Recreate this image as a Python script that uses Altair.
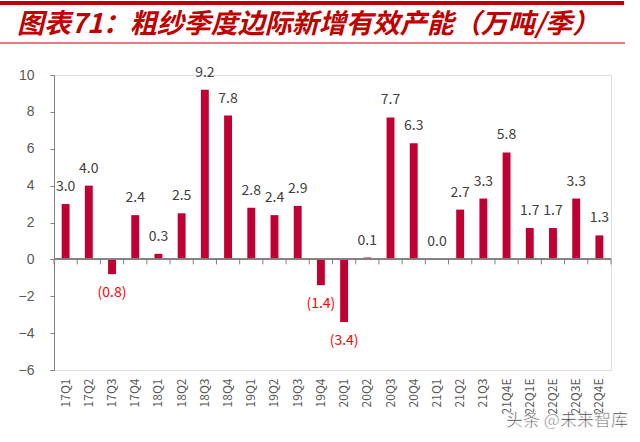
import altair as alt
import pandas as pd

TITLE = "图表71：粗纱季度边际新增有效产能（万吨/季）"
WATERMARK = "头条 @未来智库"

quarters = ["17Q1", "17Q2", "17Q3", "17Q4", "18Q1", "18Q2", "18Q3", "18Q4",
            "19Q1", "19Q2", "19Q3", "19Q4", "20Q1", "20Q2", "20Q3", "20Q4",
            "21Q1", "21Q2", "21Q3", "21Q4E", "22Q1E", "22Q2E", "22Q3E", "22Q4E"]
values = [3.0, 4.0, -0.8, 2.4, 0.3, 2.5, 9.2, 7.8,
          2.8, 2.4, 2.9, -1.4, -3.4, 0.1, 7.7, 6.3,
          0.0, 2.7, 3.3, 5.8, 1.7, 1.7, 3.3, 1.3]
y_ticks = [-6, -4, -2, 0, 2, 4, 6, 8, 10]

df = pd.DataFrame({"q": quarters, "v": values})
df["label"] = [f"{v:.1f}" if v >= 0 else f"({-v:.1f})" for v in values]

W, H = 557, 295
Y_MIN, Y_MAX = -6, 10
PAD_IN = 0.66
STEP = W / len(quarters)
GAP_HALF = STEP * PAD_IN / 2
TICK_UNITS = 5 / (H / (Y_MAX - Y_MIN))   # 5 px tick length expressed in data units
RED = "#C00032"
TITLE_RED = "#C00000"
GRAY = "#808080"
LABEL = "#595959"
FONT = "Noto Sans CJK SC"

xscale = alt.Scale(paddingInner=PAD_IN, paddingOuter=PAD_IN / 2)
yscale = alt.Scale(domain=[Y_MIN, Y_MAX], nice=False, zero=False)

x_axis = alt.Axis(title=None, labelAngle=-90, domain=False, ticks=False,
                  labelFontSize=12, labelColor=LABEL, labelPadding=8,
                  labelFont=FONT)
y_axis = alt.Axis(values=y_ticks, title=None, grid=False,
                  domainColor=GRAY, tickColor=GRAY, tickSize=4,
                  labelPadding=16, labelFontSize=14, labelColor=LABEL,
                  labelOverlap=False)

x_enc = alt.X("q:N", sort=quarters, scale=xscale, axis=x_axis)
y_enc = alt.Y("v:Q", scale=yscale, axis=y_axis)

bars = alt.Chart(df).mark_bar(color=RED).encode(x=x_enc, y=y_enc)

zero_line = alt.Chart(df).mark_rule(color=GRAY, strokeWidth=1).encode(
    y=alt.Y(datum=0, scale=yscale, axis=y_axis), x=alt.value(0), x2=alt.value(W))

zero_ticks = alt.Chart(df).mark_rule(
    color=GRAY, strokeWidth=1, xOffset=-GAP_HALF
).encode(
    x=alt.X("q:N", sort=quarters, scale=xscale, axis=x_axis, bandPosition=0),
    y=alt.Y(datum=0, scale=yscale, axis=y_axis),
    y2=alt.Y2(datum=-TICK_UNITS),
)

end_tick = alt.Chart(pd.DataFrame({"a": [0]})).mark_rule(
    color=GRAY, strokeWidth=1
).encode(x=alt.value(W), y=alt.Y(datum=0, scale=yscale, axis=y_axis),
         y2=alt.Y2(datum=-TICK_UNITS))

pos_labels = alt.Chart(df).transform_filter("datum.v >= 0").mark_text(
    baseline="bottom", dy=-10, fontSize=14, font=FONT, color="#404040"
).encode(x=x_enc, y=y_enc, text="label:N")

neg_labels = alt.Chart(df).transform_filter("datum.v < 0").mark_text(
    baseline="top", dy=12, fontSize=14, font=FONT, color="#FF0000"
).encode(x=x_enc, y=y_enc, text="label:N")

one = pd.DataFrame({"t": [TITLE]})
title = alt.Chart(one).mark_text(
    align="left", baseline="middle", font=FONT, fontSize=27, fontWeight="bold",
    fontStyle="italic", color=TITLE_RED
).encode(x=alt.value(-37), y=alt.value(-50), text="t:N")

line_top = alt.Chart(one).mark_rule(color=TITLE_RED, strokeWidth=4).encode(
    x=alt.value(-54), x2=alt.value(570), y=alt.value(-72))
line_bot = alt.Chart(one).mark_rule(color=TITLE_RED, strokeWidth=1.2).encode(
    x=alt.value(-54), x2=alt.value(571), y=alt.value(-32))

wm = pd.DataFrame({"t": [WATERMARK]})
watermark = alt.Chart(wm).mark_text(
    align="center", baseline="middle", font=FONT, fontSize=17, color="#3a3a3a",
    stroke="white", strokeWidth=0.6
).encode(x=alt.value(513), y=alt.value(346), text="t:N")

chart = alt.layer(
    bars, zero_line, zero_ticks, end_tick, pos_labels, neg_labels,
    title, line_top, line_bot, watermark
).properties(
    width=W, height=H,
    padding={"left": 54, "top": 75, "right": 29, "bottom": 72},
    autosize=alt.AutoSizeParams(type="none"),
).configure_view(stroke=None).configure(background="white")

chart.save("out.html", embed_options={"renderer": "svg", "actions": False})
